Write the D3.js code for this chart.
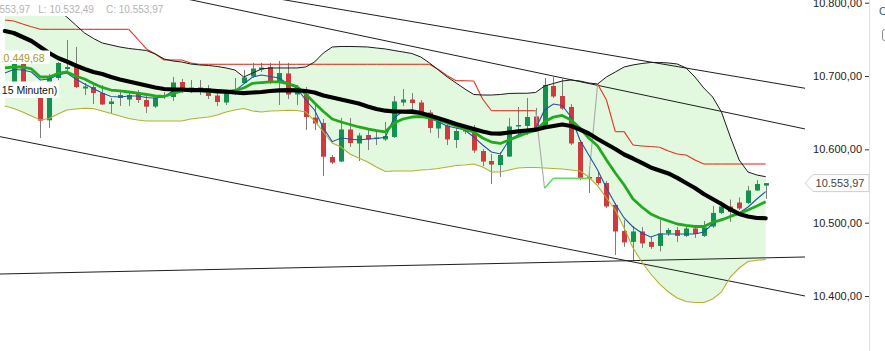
<!DOCTYPE html>
<html>
<head>
<meta charset="utf-8">
<script src="https://cdn.jsdelivr.net/npm/d3@7"></script>
<style>
  html, body { margin: 0; padding: 0; background: #fff; overflow: hidden; }
  svg { display: block; font-family: "Liberation Sans", Arial, sans-serif; }
</style>
</head>
<body>
<svg id="chart" width="885" height="351"></svg>
<script>
// 15-minute bars: open / high / low / close
const open = [10728.7, 10686.4, 10719.1, 10683.7, 10675.5, 10639.6, 10697.3, 10709.6, 10712.3, 10683.0,
  10685.0, 10676.8, 10661.8, 10670.0, 10668.0, 10675.5, 10667.3, 10658.4, 10674.1, 10671.4,
  10691.9, 10680.9, 10684.4, 10683.0, 10673.4, 10663.9, 10681.6, 10690.5, 10699.4, 10708.9,
  10712.3, 10690.5, 10703.5, 10674.8, 10674.8, 10643.4, 10636.0, 10589.6, 10583.4, 10627.1,
  10608.0, 10619.6, 10614.1, 10613.5, 10616.9, 10663.9, 10668.0, 10663.9, 10650.3, 10628.4,
  10632.3, 10612.7, 10624.3, 10623.0, 10597.7, 10584.1, 10578.6, 10590.2, 10631.2, 10631.9,
  10644.8, 10630.5, 10686.4, 10672.8, 10657.8, 10610.0, 10561.0, 10562.3, 10554.1, 10524.2,
  10488.7, 10473.8, 10488.0, 10473.8, 10468.3, 10485.3, 10490.0, 10481.9, 10492.1, 10481.9,
  10494.8, 10513.3, 10522.1, 10527.5, 10526.9, 10543.9, 10550.5];

const high = [10731.4, 10728.7, 10724.6, 10687.8, 10683.7, 10702.8, 10719.1, 10749.2, 10739.6, 10690.5,
  10690.5, 10687.8, 10670.0, 10679.6, 10678.2, 10680.9, 10672.8, 10674.1, 10678.2, 10698.7,
  10696.0, 10694.6, 10694.6, 10687.8, 10678.2, 10680.9, 10697.3, 10708.2, 10717.8, 10717.8,
  10717.8, 10720.5, 10717.8, 10687.8, 10685.0, 10661.8, 10641.4, 10592.3, 10642.8, 10642.8,
  10622.3, 10627.8, 10625.0, 10637.4, 10672.8, 10682.3, 10676.8, 10667.3, 10653.7, 10642.8,
  10636.0, 10629.1, 10633.2, 10633.2, 10600.5, 10593.6, 10596.4, 10642.8, 10657.8, 10670.0,
  10656.4, 10697.3, 10698.7, 10696.0, 10661.8, 10612.7, 10576.0, 10569.1, 10556.9, 10526.9,
  10503.7, 10495.5, 10494.1, 10480.5, 10503.7, 10492.8, 10494.1, 10495.5, 10496.9, 10502.3,
  10522.8, 10529.0, 10531.6, 10534.4, 10550.1, 10558.2, 10553.97];

const low = [10719.1, 10680.9, 10680.9, 10674.1, 10615.5, 10629.1, 10694.6, 10706.9, 10683.7, 10674.1,
  10661.8, 10660.5, 10649.6, 10659.1, 10659.1, 10663.2, 10649.6, 10656.4, 10668.7, 10666.0,
  10676.8, 10676.8, 10674.1, 10668.7, 10659.1, 10660.5, 10674.1, 10689.2, 10697.3, 10705.5,
  10689.2, 10660.5, 10668.7, 10660.5, 10626.4, 10626.4, 10563.6, 10580.0, 10582.7, 10603.2,
  10584.1, 10599.1, 10605.9, 10611.4, 10615.5, 10659.1, 10655.0, 10646.8, 10622.3, 10615.5,
  10605.9, 10601.8, 10620.9, 10595.0, 10577.3, 10552.7, 10562.3, 10589.6, 10619.6, 10619.6,
  10625.0, 10629.1, 10670.0, 10653.7, 10605.9, 10558.2, 10540.5, 10551.4, 10520.1, 10456.0,
  10466.9, 10449.1, 10465.6, 10464.2, 10460.8, 10481.9, 10473.7, 10480.5, 10479.2, 10480.5,
  10492.8, 10511.9, 10501.0, 10517.3, 10525.5, 10543.2, 10532.49];

const close = [10721.9, 10721.9, 10686.4, 10680.9, 10639.1, 10700.0, 10717.8, 10712.3, 10685.0, 10685.7,
  10676.8, 10661.2, 10665.3, 10674.1, 10674.1, 10667.3, 10658.2, 10670.7, 10672.1, 10691.2,
  10682.3, 10684.4, 10678.9, 10672.8, 10664.6, 10676.8, 10677.5, 10698.0, 10710.3, 10711.6,
  10691.9, 10704.1, 10674.8, 10679.6, 10644.1, 10635.3, 10590.0, 10582.0, 10627.1, 10608.6,
  10618.9, 10613.5, 10616.2, 10618.2, 10665.3, 10668.0, 10663.2, 10650.3, 10629.1, 10637.3,
  10613.5, 10625.0, 10626.4, 10598.4, 10583.4, 10579.3, 10592.3, 10631.2, 10633.2, 10644.1,
  10628.4, 10687.8, 10672.1, 10655.7, 10608.0, 10561.0, 10562.3, 10554.1, 10522.1, 10488.0,
  10473.1, 10488.0, 10471.7, 10467.0, 10485.3, 10490.0, 10481.9, 10492.1, 10484.6, 10493.5,
  10513.3, 10522.1, 10514.6, 10519.4, 10543.9, 10552.8, 10553.97];

// Bollinger bands
const bbUpper = [10826.9, 10824.2, 10820.1, 10814.6, 10807.8, 10799.6, 10790.1, 10780.5, 10769.6, 10758.7,
  10751.2, 10745.1, 10742.3, 10739.6, 10737.6, 10736.2, 10734.8, 10730.1, 10723.2, 10720.5,
  10719.1, 10716.4, 10715.1, 10714.4, 10713.0, 10711.0, 10708.2, 10698.7, 10704.1, 10709.6,
  10711.0, 10711.0, 10711.0, 10711.0, 10712.3, 10719.1, 10731.4, 10739.6, 10740.3, 10740.3,
  10740.0, 10739.6, 10738.2, 10736.9, 10734.8, 10732.8, 10730.7, 10726.0, 10717.8, 10708.2,
  10698.7, 10690.5, 10682.3, 10674.8, 10674.1, 10674.1, 10674.8, 10676.2, 10676.5, 10676.5,
  10677.6, 10686.4, 10689.8, 10693.2, 10694.6, 10693.2, 10690.5, 10689.2, 10698.7, 10705.5,
  10712.3, 10715.1, 10717.1, 10718.5, 10718.5, 10717.8, 10716.4, 10711.0, 10698.7, 10683.7,
  10671.4, 10651.0, 10616.9, 10585.5, 10569.1, 10565.0, 10562.7];

const bbLower = [10659.1, 10655.7, 10651.0, 10645.5, 10640.1, 10642.1, 10648.2, 10653.7, 10655.0, 10656.0,
  10655.7, 10652.3, 10648.9, 10645.5, 10642.1, 10640.1, 10638.7, 10638.7, 10638.7, 10638.7,
  10638.7, 10641.4, 10642.8, 10644.1, 10646.9, 10651.0, 10653.7, 10655.7, 10652.3, 10651.0,
  10652.3, 10652.7, 10653.3, 10653.0, 10651.0, 10638.7, 10623.7, 10608.7, 10603.2, 10593.7,
  10588.2, 10582.8, 10575.9, 10569.8, 10570.5, 10570.5, 10570.5, 10571.9, 10572.6, 10573.9,
  10576.0, 10578.0, 10578.7, 10580.0, 10576.0, 10569.1, 10569.1, 10571.9, 10574.6, 10575.3,
  10575.3, 10574.6, 10573.9, 10573.2, 10571.9, 10570.5, 10562.3, 10550.1, 10533.7, 10517.3,
  10492.8, 10465.5, 10446.4, 10430.0, 10416.4, 10405.5, 10397.3, 10392.5, 10391.2, 10391.2,
  10395.9, 10405.5, 10425.9, 10438.2, 10447.1, 10448.7, 10449.68];

// Moving averages (fast / mid / slow)
const maFast = [10704.1, 10708.9, 10708.2, 10705.5, 10694.6, 10696.0, 10701.4, 10704.1, 10696.0, 10689.2,
  10683.0, 10676.8, 10672.1, 10671.4, 10672.8, 10672.8, 10670.7, 10669.6, 10672.1, 10679.6,
  10681.6, 10680.9, 10679.6, 10678.2, 10676.5, 10676.8, 10679.6, 10689.2, 10698.7, 10701.4,
  10699.4, 10697.3, 10689.2, 10683.7, 10667.3, 10653.7, 10629.1, 10610.5, 10615.5, 10614.1,
  10612.8, 10614.1, 10614.8, 10616.5, 10642.8, 10652.3, 10654.4, 10651.6, 10642.8, 10637.3,
  10631.9, 10629.1, 10626.4, 10616.9, 10605.9, 10596.4, 10593.7, 10612.8, 10619.6, 10626.4,
  10628.4, 10653.7, 10661.8, 10659.8, 10644.1, 10612.8, 10592.3, 10571.9, 10547.3, 10525.5,
  10506.4, 10494.1, 10486.0, 10480.5, 10484.6, 10484.6, 10484.6, 10484.6, 10484.6, 10487.3,
  10498.2, 10505.0, 10507.8, 10513.2, 10521.4, 10532.3, 10542.3];

const maMid = [10711.0, 10712.3, 10712.3, 10709.6, 10698.7, 10698.7, 10703.5, 10705.5, 10700.1, 10696.0,
  10689.8, 10684.4, 10680.9, 10679.6, 10678.2, 10676.8, 10674.8, 10672.8, 10672.1, 10676.2,
  10679.6, 10680.9, 10680.3, 10678.9, 10678.6, 10678.6, 10680.3, 10683.7, 10690.1, 10690.9,
  10691.9, 10691.9, 10689.8, 10685.7, 10675.5, 10663.2, 10651.6, 10641.4, 10637.3, 10633.9,
  10630.5, 10627.8, 10625.7, 10623.7, 10636.0, 10641.4, 10644.1, 10644.8, 10642.8, 10640.1,
  10636.0, 10631.9, 10627.1, 10623.7, 10615.5, 10610.0, 10608.0, 10612.8, 10617.6, 10622.3,
  10625.7, 10637.3, 10644.1, 10646.2, 10640.1, 10629.1, 10615.5, 10604.6, 10585.5, 10567.8,
  10551.4, 10532.3, 10521.4, 10511.9, 10506.4, 10502.3, 10498.2, 10496.2, 10494.8, 10494.8,
  10500.3, 10503.7, 10508.5, 10512.6, 10517.3, 10522.8, 10528.6];

const maSlow = [10761.4, 10758.7, 10753.2, 10747.8, 10739.6, 10731.4, 10724.6, 10719.8, 10714.4, 10709.6,
  10705.5, 10702.8, 10698.7, 10695.3, 10692.6, 10689.8, 10687.1, 10684.4, 10682.3, 10681.6,
  10681.6, 10680.9, 10680.9, 10680.3, 10679.6, 10678.6, 10677.5, 10676.8, 10677.5, 10678.2,
  10679.6, 10680.5, 10680.9, 10680.5, 10679.6, 10677.5, 10673.5, 10670.7, 10668.0, 10665.3,
  10662.5, 10658.5, 10655.0, 10652.7, 10651.6, 10651.4, 10651.0, 10649.6, 10646.2, 10642.4,
  10638.7, 10634.6, 10631.2, 10627.8, 10624.4, 10621.6, 10621.4, 10623.0, 10624.6, 10625.7,
  10626.8, 10629.8, 10631.9, 10633.9, 10631.9, 10627.1, 10621.6, 10614.1, 10607.3, 10600.5,
  10593.0, 10587.5, 10581.4, 10575.3, 10571.2, 10567.1, 10561.0, 10554.1, 10547.3, 10539.1,
  10532.3, 10525.5, 10518.0, 10511.9, 10508.4, 10506.4, 10506.0];

// Trailing stop level and its side (S = above price, L = below price)
const stopLevel = [10776.4, 10775.1, 10771.0, 10767.3, 10763.7, 10763.7, 10763.7, 10763.7, 10763.7, 10763.7,
  10763.7, 10763.7, 10763.7, 10763.7, 10763.7, 10750.5, 10736.9, 10730.1, 10721.9, 10721.9,
  10721.9, 10717.8, 10716.0, 10716.0, 10716.0, 10716.0, 10716.0, 10716.0, 10716.0, 10716.0,
  10716.0, 10716.0, 10716.0, 10716.0, 10716.0, 10716.0, 10716.0, 10716.0, 10716.0, 10716.0,
  10716.0, 10716.0, 10716.0, 10716.0, 10716.0, 10716.0, 10716.0, 10716.0, 10716.0, 10708.9,
  10700.5, 10693.6, 10693.6, 10693.2, 10668.7, 10652.7, 10652.7, 10652.7, 10652.7, 10652.7,
  10652.7, 10546.9, 10560.5, 10560.5, 10560.5, 10560.5, 10560.5, 10689.2, 10667.3, 10624.1,
  10624.1, 10605.9, 10604.6, 10603.9, 10602.8, 10597.8, 10593.7, 10592.3, 10585.5, 10580.0,
  10580.0, 10580.0, 10580.0, 10580.0, 10580.0, 10580.0, 10580.0];
const stopSide = ["SSSSSSSSSS", "SSSSSSSSSS", "SSSSSSSSSS", "SSSSSSSSSS", "SSSSSSSSSS",
  "SSSSSSSSSS", "SLLLLLLSSS", "SSSSSSSSSS", "SSSSSSS"].join("");

// Hand-drawn trend lines: [[bar, price], [bar, price]]
const trendLines = [
  [[-0.55, 10858.6], [90.45, 10627.8]],
  [[-0.55, 10869.7], [90.45, 10683.3]],
  [[-0.55, 10617.3], [90.45, 10400.0]],
  [[-0.55, 10430.0], [90.45, 10453.2]]
];

const yTicks = [10400, 10500, 10600, 10700, 10800];

// ---------------------------------------------------------------
const W = 885, H = 351, plotRight = 805, axisX = 869;
const de = d3.formatLocale({ decimal: ",", thousands: ".", grouping: [3], currency: ["", " €"] });
const fmt = de.format(",.2f");

const n = close.length;
const bars = d3.range(n);
const x = d3.scaleLinear().domain([0, n - 1]).range([4.9, 765.7]);
const y = d3.scaleLinear().domain([10400, 10800]).range([296, 2.7]);

const svg = d3.select("#chart");
const defs = svg.append("defs");
defs.append("clipPath").attr("id", "plotClip")
  .append("rect").attr("x", 0).attr("y", 0).attr("width", plotRight).attr("height", H);
defs.append("clipPath").attr("id", "legendClip")
  .append("rect").attr("x", 2.5).attr("y", 0).attr("width", 200).attr("height", H);

const plot = svg.append("g").attr("clip-path", "url(#plotClip)");

// band fill
plot.append("path").datum(bars)
  .attr("fill", "#e3f9df")
  .attr("d", d3.area().x(i => x(i)).y0(i => y(bbLower[i])).y1(i => y(bbUpper[i])));

// trend lines
plot.append("g").selectAll("line").data(trendLines).join("line")
  .attr("x1", d => x(d[0][0])).attr("y1", d => y(d[0][1]))
  .attr("x2", d => x(d[1][0])).attr("y2", d => y(d[1][1]))
  .attr("stroke", "#1e1e1e").attr("stroke-width", 1);

// candles
const cx = i => Math.round(x(i));
const candles = plot.append("g");
candles.selectAll("line").data(bars).join("line")
  .attr("x1", i => cx(i) + 0.5).attr("x2", i => cx(i) + 0.5)
  .attr("y1", i => y(high[i])).attr("y2", i => y(low[i]))
  .attr("stroke", "#7d7d7d").attr("stroke-width", 1);
candles.selectAll("rect").data(bars).join("rect")
  .attr("x", i => cx(i) - 2).attr("width", 5)
  .attr("y", i => y(Math.max(open[i], close[i])))
  .attr("height", i => Math.max(1.5, Math.abs(y(open[i]) - y(close[i]))))
  .attr("fill", i => close[i] >= open[i] ? "#13924f" : "#cf3a3f");

// trailing stop: red above price, green below, grey where it flips
const stopSegs = d3.range(1, n).map(i => ({ a: i - 1, b: i }));
plot.append("g").selectAll("line").data(stopSegs).join("line")
  .attr("x1", d => x(d.a)).attr("y1", d => y(stopLevel[d.a]))
  .attr("x2", d => x(d.b)).attr("y2", d => y(stopLevel[d.b]))
  .attr("stroke", d => stopSide[d.a] !== stopSide[d.b] ? "#a9a9a9" : (stopSide[d.b] === "S" ? "#e2321f" : "#5fdc5a"))
  .attr("stroke-width", d => stopSide[d.a] === stopSide[d.b] && stopSide[d.b] === "L" ? 1.6 : 1.1);

const line = arr => d3.line().x(i => x(i)).y(i => y(arr[i]))(bars);

plot.append("path").attr("d", line(bbUpper)).attr("fill", "none").attr("stroke", "#1a1a1a").attr("stroke-width", 1);
plot.append("path").attr("d", line(bbLower)).attr("fill", "none").attr("stroke", "#b6ae37").attr("stroke-width", 1.1);
plot.append("path").attr("d", line(maFast)).attr("fill", "none").attr("stroke", "#2450a8").attr("stroke-width", 1.1);
plot.append("path").attr("d", line(maMid)).attr("fill", "none").attr("stroke", "#22aa1e").attr("stroke-width", 2.8)
  .attr("stroke-linejoin", "round");
plot.append("path").attr("d", line(maSlow)).attr("fill", "none").attr("stroke", "#000").attr("stroke-width", 4.2)
  .attr("stroke-linejoin", "round").attr("stroke-linecap", "round");

// price axis
svg.append("line").attr("x1", axisX + 0.5).attr("x2", axisX + 0.5).attr("y1", 0).attr("y2", H)
  .attr("stroke", "#e2e2e2");
const axis = svg.append("g").attr("transform", `translate(${axisX},0)`)
  .call(d3.axisLeft(y).tickValues(yTicks).tickSize(4).tickPadding(3).tickFormat(fmt));
axis.select(".domain").remove();
axis.selectAll(".tick line").attr("stroke", "#333");
axis.selectAll(".tick text").attr("font-size", 11).attr("fill", "#222")
  .attr("font-family", "'Liberation Sans', Arial, sans-serif");

// last price tag
const lastY = y(close[n - 1]);
svg.append("path")
  .attr("d", `M${plotRight},${lastY} L${plotRight + 8},${lastY - 8.5} L${axisX},${lastY - 8.5} L${axisX},${lastY + 8.5} L${plotRight + 8},${lastY + 8.5} Z`)
  .attr("fill", "#fff").attr("stroke", "#cfcfcf");
svg.append("text").attr("x", 840).attr("y", lastY + 4).attr("text-anchor", "middle")
  .attr("font-size", 11).attr("fill", "#444").text(fmt(close[n - 1]));

// header (last bar values)
svg.append("rect").attr("x", 0).attr("y", 0).attr("width", 170).attr("height", 16).attr("fill", "#fff");
const head = svg.append("g").attr("font-size", 10).attr("fill", "#b3b3b3");
head.append("text").attr("x", 30).attr("y", 12.5).attr("text-anchor", "end").text(`H: ${fmt(high[n - 1])}`);
head.append("text").attr("x", 38.3).attr("y", 12.5).text(`L: ${fmt(low[n - 1])}`);
head.append("text").attr("x", 106).attr("y", 12.5).text(`C: ${fmt(close[n - 1])}`);

// legend entries
svg.append("rect").attr("x", 0).attr("y", 50.5).attr("width", 50).attr("height", 13.5).attr("fill", "#fff");
svg.append("g").attr("clip-path", "url(#legendClip)")
  .append("text").attr("x", 44.5).attr("y", 61.5).attr("text-anchor", "end")
  .attr("font-size", 10.5).attr("fill", "#a29b24").text(fmt(bbLower[n - 1]));
svg.append("rect").attr("x", 0).attr("y", 81.5).attr("width", 59).attr("height", 16.5).attr("fill", "#fff");
svg.append("text").attr("x", 57.3).attr("y", 93.5).attr("text-anchor", "end")
  .attr("font-size", 10.5).attr("fill", "#111").text("15 Minuten)");

// side panel edge
svg.append("text").attr("x", 879).attr("y", 15).attr("font-size", 11).attr("fill", "#2b5f7e").text("C");
svg.append("rect").attr("x", 882.5).attr("y", 29.5).attr("width", 9).attr("height", 11).attr("rx", 2)
  .attr("fill", "none").attr("stroke", "#8a8a8a");
</script>
</body>
</html>
